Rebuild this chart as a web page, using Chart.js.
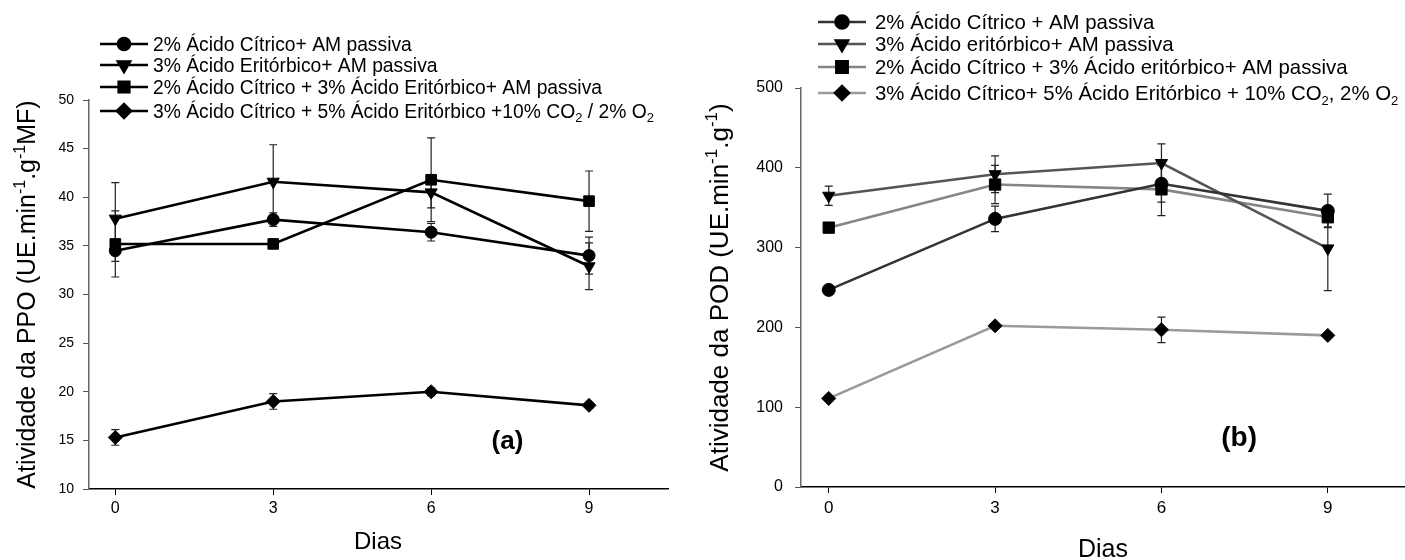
<!DOCTYPE html>
<html lang="pt">
<head>
<meta charset="utf-8">
<title>Atividade da PPO e da POD</title>
<script src="https://cdn.jsdelivr.net/npm/chart.js@4.4.1/dist/chart.umd.min.js"></script>
<style>
  html, body { margin: 0; padding: 0; background: #fff; }
  #wrap { position: relative; width: 1405px; height: 560px; overflow: hidden; }
  canvas { position: absolute; top: 0; }
  #graficoPPO { left: 0; }
  #graficoPOD { left: 690px; }
</style>
</head>
<body>
<div id="wrap">
  <canvas id="graficoPPO" width="690" height="560"></canvas>
  <canvas id="graficoPOD" width="730" height="560"></canvas>
</div>
<script>
// DADOS
const dias = [0, 3, 6, 9];

// (a) PPO
const ppoCitrico = [34.5, 37.7, 36.4, 34.0];
const ppoCitricoErro = [1.1, 0.7, 0.9, 1.9];
const ppoEritorbico = [37.8, 41.6, 40.5, 32.9];
const ppoEritorbicoErro = [3.7, 3.8, 1.6, 2.4];
const ppoMistura = [35.2, 35.2, 41.8, 39.6];
const ppoMisturaErro = [3.4, 0.3, 4.3, 3.1];
const ppoAtm = [15.3, 19.0, 20.0, 18.6];
const ppoAtmErro = [0.8, 0.8, 0.4, 0.3];

// (b) POD
const podCitrico = [247, 336, 380, 346];
const podCitricoErro = [2, 16, 23, 21];
const podEritorbico = [365, 392, 406, 299];
const podEritorbicoErro = [12, 23, 24, 53];
const podMistura = [325, 379, 373, 338];
const podMisturaErro = [3, 24, 33, 12];
const podAtm = [111, 202, 197, 190];
const podAtmErro = [3, 3, 16, 3];

// legendas ( _{..} = subscrito, ^{..} = sobrescrito )
const legendaPPO = [
  '2% Ácido Cítrico+ AM passiva',
  '3% Ácido Eritórbico+ AM passiva',
  '2% Ácido Cítrico + 3% Ácido Eritórbico+ AM passiva',
  '3% Ácido Cítrico + 5% Ácido Eritórbico +10% CO_{2} / 2% O_{2}'
];
const legendaPOD = [
  '2% Ácido Cítrico + AM passiva',
  '3% Ácido eritórbico+ AM passiva',
  '2% Ácido Cítrico + 3% Ácido eritórbico+ AM passiva',
  '3% Ácido Cítrico+ 5% Ácido Eritórbico + 10% CO_{2}, 2% O_{2}'
];

const FONTE = "'Liberation Sans', Arial, Helvetica, sans-serif";

// TEXTO COM SUB/SOBRESCRITO
function partiTesto(str) {
  const out = [];
  const re = /([_^])\{([^}]*)\}/g;
  let last = 0, m;
  while ((m = re.exec(str))) {
    if (m.index > last) out.push({ t: str.slice(last, m.index), k: 'n' });
    out.push({ t: m[2], k: m[1] === '^' ? 'sup' : 'sub' });
    last = re.lastIndex;
  }
  if (last < str.length) out.push({ t: str.slice(last), k: 'n' });
  return out;
}

function scriviRicco(ctx, str, x, y, size, align, peso) {
  const parti = partiTesto(str);
  const fnt = k => `${peso || 'normal'} ${k === 'n' ? size : Math.round(size * 0.65)}px ${FONTE}`;
  let w = 0;
  parti.forEach(p => { ctx.font = fnt(p.k); p.w = ctx.measureText(p.t).width; w += p.w; });
  let cx = align === 'center' ? x - w / 2 : x;
  ctx.textAlign = 'left';
  ctx.textBaseline = 'alphabetic';
  parti.forEach(p => {
    ctx.font = fnt(p.k);
    const dy = p.k === 'sup' ? -size * 0.42 : (p.k === 'sub' ? size * 0.22 : 0);
    ctx.fillText(p.t, cx, y + dy);
    cx += p.w;
  });
}

function marcador(ctx, ds, x, y) {
  ctx.fillStyle = '#000';
  ctx.strokeStyle = '#000';
  if (Chart.helpers && Chart.helpers.drawPoint) {
    Chart.helpers.drawPoint(ctx, { pointStyle: ds.pointStyle, radius: ds.pointRadius, rotation: ds.pointRotation || 0, borderWidth: 1 }, x, y);
  } else {
    ctx.beginPath(); ctx.arc(x, y, ds.pointRadius, 0, Math.PI * 2); ctx.fill();
  }
}

// PLUGIN: barras de erro, legenda, títulos
const pluginExtra = {
  id: 'extra',
  beforeDatasetsDraw(chart) {
    const ctx = chart.ctx, ys = chart.scales.y;
    ctx.save();
    ctx.strokeStyle = '#222';
    ctx.lineWidth = 1.2;
    chart.data.datasets.forEach((ds, i) => {
      const meta = chart.getDatasetMeta(i);
      meta.data.forEach((pt, j) => {
        const v = ds.data[j].y, e = ds.erros[j];
        const yt = ys.getPixelForValue(v + e), yb = ys.getPixelForValue(v - e);
        ctx.beginPath();
        ctx.moveTo(pt.x, yt); ctx.lineTo(pt.x, yb);
        ctx.moveTo(pt.x - 4, yt); ctx.lineTo(pt.x + 4, yt);
        ctx.moveTo(pt.x - 4, yb); ctx.lineTo(pt.x + 4, yb);
        ctx.stroke();
      });
    });
    ctx.restore();
  },
  afterDraw(chart, args, opt) {
    const ctx = chart.ctx, area = chart.chartArea;
    ctx.save();
    ctx.fillStyle = '#000';
    // legenda
    const L = opt.legenda;
    chart.data.datasets.forEach((ds, i) => {
      const y = L.linhas[i];
      ctx.strokeStyle = ds.borderColor;
      ctx.lineWidth = ds.borderWidth;
      ctx.beginPath(); ctx.moveTo(L.x0, y); ctx.lineTo(L.x1, y); ctx.stroke();
      marcador(ctx, ds, (L.x0 + L.x1) / 2, y);
      ctx.fillStyle = '#000';
      scriviRicco(ctx, ds.label, L.xt, y + L.size * 0.36, L.size, 'left');
    });
    // título eixo y
    ctx.save();
    ctx.translate(opt.tituloY.x, (area.top + area.bottom) / 2);
    ctx.rotate(-Math.PI / 2);
    scriviRicco(ctx, opt.tituloY.texto, 0, opt.tituloY.size * 0.36, opt.tituloY.size, 'center');
    ctx.restore();
    // título eixo x
    scriviRicco(ctx, 'Dias', opt.tituloX.x, opt.tituloX.y, opt.tituloX.size, 'center');
    // rótulo (a)/(b)
    const xs = chart.scales.x, ys = chart.scales.y;
    scriviRicco(ctx, opt.rotulo.texto, xs.getPixelForValue(opt.rotulo.x), ys.getPixelForValue(opt.rotulo.y) + opt.rotulo.size * 0.36, opt.rotulo.size, 'center', 'bold');
    ctx.restore();
  }
};

function serie(label, valori, erros, estilo, cor, raio, rot) {
  return {
    label,
    data: dias.map((d, i) => ({ x: d, y: valori[i] })),
    erros,
    borderColor: cor,
    borderWidth: 2.6,
    pointStyle: estilo,
    pointRadius: raio,
    pointRotation: rot || 0,
    pointBackgroundColor: '#000',
    pointBorderColor: '#000',
    pointBorderWidth: 1,
    tension: 0,
    fill: false
  };
}

function creaGrafico(id, datasets, c) {
  return new Chart(document.getElementById(id).getContext('2d'), {
    type: 'line',
    data: { datasets },
    plugins: [pluginExtra],
    options: {
      responsive: false,
      animation: false,
      events: [],
      layout: { padding: c.padding },
      plugins: {
        legend: { display: false },
        tooltip: { enabled: false },
        extra: c.extra
      },
      scales: {
        x: {
          type: 'linear', min: -0.5, max: 10.5,
          afterBuildTicks: s => { s.ticks = dias.map(v => ({ value: v })); },
          afterFit: s => { s.height = c.xAltezza; },
          grid: { display: true, drawOnChartArea: false, drawTicks: true, tickLength: 6, color: '#000', lineWidth: 1 },
          border: { display: true, color: '#000', width: 1.5 },
          ticks: { font: { family: FONTE, size: c.xTick }, color: '#000', padding: c.xPad, maxRotation: 0 }
        },
        y: {
          min: c.yMin, max: c.yMax,
          afterFit: s => { s.width = c.yLargura; },
          grid: { display: true, drawOnChartArea: false, drawTicks: true, tickLength: 6, color: '#555', lineWidth: 1 },
          border: { display: true, color: '#666', width: 1.5 },
          ticks: { stepSize: c.yPasso, font: { family: FONTE, size: c.yTick }, color: '#000', padding: c.yPad }
        }
      }
    }
  });
}

// (a) PPO
creaGrafico('graficoPPO', [
  serie(legendaPPO[0], ppoCitrico, ppoCitricoErro, 'circle', '#000', 6),
  serie(legendaPPO[1], ppoEritorbico, ppoEritorbicoErro, 'triangle', '#000', 7, 180),
  serie(legendaPPO[2], ppoMistura, ppoMisturaErro, 'rect', '#000', 7.5),
  serie(legendaPPO[3], ppoAtm, ppoAtmErro, 'rectRot', '#000', 7)
], {
  padding: { left: 0, top: 100, right: 22, bottom: 0 },
  xAltezza: 71, yLargura: 89,
  yMin: 10, yMax: 50, yPasso: 5,
  xTick: 16, yTick: 14, xPad: 4, yPad: 9,
  extra: {
    legenda: { x0: 100, x1: 148, xt: 153, size: 19.3, linhas: [44, 65, 87, 111] },
    tituloY: { texto: 'Atividade da PPO (UE.min^{-1}.g^{-1}MF)', x: 26, size: 25 },
    tituloX: { x: 378, y: 549, size: 24 },
    rotulo: { texto: '(a)', x: 7.45, y: 15.1, size: 26 }
  }
});

// (b) POD
creaGrafico('graficoPOD', [
  serie(legendaPOD[0], podCitrico, podCitricoErro, 'circle', '#333', 6.5),
  serie(legendaPOD[1], podEritorbico, podEritorbicoErro, 'triangle', '#555', 7, 180),
  serie(legendaPOD[2], podMistura, podMisturaErro, 'rect', '#858585', 8),
  serie(legendaPOD[3], podAtm, podAtmErro, 'rectRot', '#9a9a9a', 7)
], {
  padding: { left: 0, top: 88, right: 0, bottom: 0 },
  xAltezza: 73, yLargura: 111,
  yMin: 0, yMax: 500, yPasso: 100,
  xTick: 17, yTick: 16, xPad: 5, yPad: 12,
  extra: {
    legenda: { x0: 128, x1: 176, xt: 185, size: 20.4, linhas: [22, 44, 67, 93] },
    tituloY: { texto: 'Atividade da POD (UE.min^{-1}.g^{-1})', x: 29, size: 26 },
    tituloX: { x: 413, y: 557, size: 25 },
    rotulo: { texto: '(b)', x: 7.4, y: 64, size: 28 }
  }
});
</script>
</body>
</html>
